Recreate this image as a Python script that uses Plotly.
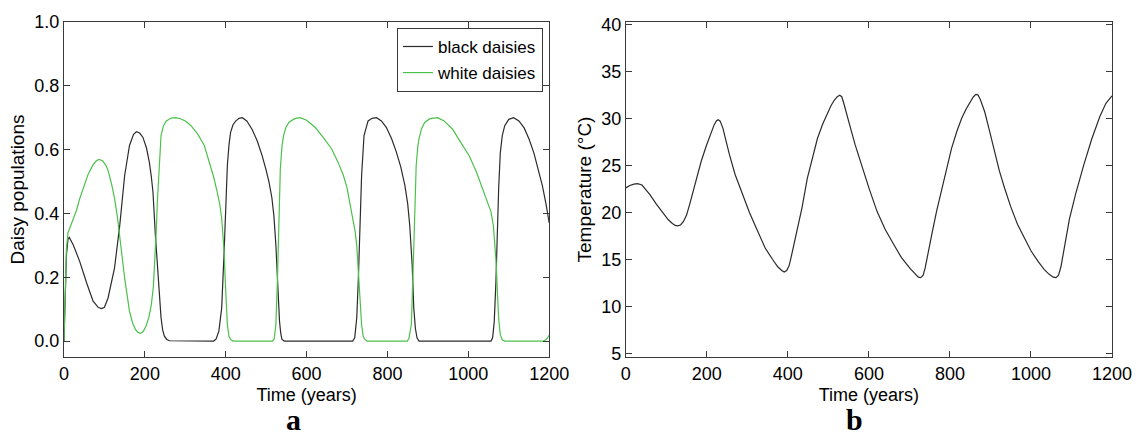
import plotly.graph_objects as go

# ---------------- data ----------------
black_t = [0, 3, 6, 10, 13, 23, 39, 56, 72, 85, 93, 100, 109, 125, 138, 150, 162, 172, 179, 187,
           195, 204, 211, 216, 220, 226, 230, 234, 240, 244, 248, 254, 261, 370, 376, 383, 390, 396,
           400, 404, 408, 412, 418, 425, 433, 441, 452, 465, 478, 490, 500, 507, 514, 519, 524, 528,
           533, 536, 539, 545, 714, 719, 724, 728, 732, 736, 742, 747, 752, 762, 773, 785, 797, 810,
           822, 833, 843, 850, 855, 861, 865, 869, 873, 878, 1056, 1060, 1064, 1068, 1071, 1075,
           1079, 1084, 1090, 1100, 1112, 1125, 1138, 1150, 1162, 1173, 1183, 1192, 1200]
black_v = [0.0, 0.15, 0.27, 0.32, 0.325, 0.301, 0.249, 0.182, 0.125, 0.105, 0.102, 0.106, 0.135,
           0.229, 0.364, 0.519, 0.613, 0.648, 0.656, 0.652, 0.639, 0.605, 0.561, 0.515, 0.467, 0.332,
           0.25, 0.176, 0.073, 0.035, 0.016, 0.005, 0.001, 0.0, 0.006, 0.031, 0.104, 0.28, 0.425,
           0.55, 0.615, 0.654, 0.678, 0.69, 0.698, 0.70, 0.69, 0.664, 0.627, 0.581, 0.535, 0.498,
           0.45, 0.394, 0.301, 0.187, 0.062, 0.025, 0.005, 0.0, 0.0, 0.01, 0.073, 0.197, 0.363,
           0.519, 0.644, 0.672, 0.69, 0.698, 0.70, 0.69, 0.67, 0.635, 0.592, 0.545, 0.488, 0.43,
           0.363, 0.239, 0.104, 0.04, 0.01, 0.0, 0.0, 0.01, 0.06, 0.18, 0.32, 0.48, 0.59, 0.645,
           0.675, 0.695, 0.70, 0.69, 0.668, 0.633, 0.59, 0.54, 0.487, 0.43, 0.37]

white_t = [0, 3, 6, 10, 16, 23, 31, 39, 50, 60, 72, 80, 87, 95, 103, 109, 118, 125, 132, 138, 144,
           150, 156, 162, 170, 177, 183, 189, 196, 203, 210, 216, 221, 224, 228, 231, 234, 237, 240,
           246, 253, 265, 277, 290, 302, 314, 330, 347, 359, 370, 379, 385, 390, 393, 396, 400, 404,
           408, 412, 418, 516, 520, 524, 528, 531, 535, 539, 543, 549, 556, 570, 584, 600, 621, 640,
           662, 678, 691, 700, 707, 714, 720, 724, 726, 730, 733, 736, 740, 744, 750, 849, 853, 859,
           863, 867, 871, 875, 878, 884, 892, 905, 924, 940, 961, 980, 1002, 1020, 1035, 1046, 1056,
           1062, 1066, 1069, 1072, 1075, 1079, 1084, 1090, 1185, 1192, 1200]
white_v = [0.0, 0.16, 0.29, 0.34, 0.36, 0.379, 0.41, 0.447, 0.49, 0.524, 0.553, 0.565, 0.569, 0.565,
           0.552, 0.535, 0.49, 0.447, 0.39, 0.332, 0.262, 0.197, 0.14, 0.093, 0.055, 0.036, 0.027,
           0.024, 0.03, 0.047, 0.075, 0.114, 0.17, 0.229, 0.343, 0.44, 0.52, 0.59, 0.644, 0.675,
           0.69, 0.699, 0.70, 0.696, 0.688, 0.675, 0.65, 0.613, 0.561, 0.515, 0.467, 0.43, 0.384,
           0.34, 0.28, 0.156, 0.052, 0.015, 0.005, 0.0, 0.0, 0.008, 0.052, 0.197, 0.363, 0.54, 0.61,
           0.644, 0.67, 0.685, 0.697, 0.70, 0.692, 0.67, 0.64, 0.602, 0.56, 0.519, 0.48, 0.436, 0.39,
           0.343, 0.3, 0.26, 0.156, 0.09, 0.052, 0.015, 0.005, 0.0, 0.0, 0.008, 0.052, 0.207, 0.384,
           0.55, 0.61, 0.634, 0.665, 0.685, 0.697, 0.70, 0.69, 0.664, 0.625, 0.581, 0.53, 0.477,
           0.44, 0.405, 0.36, 0.3, 0.24, 0.15, 0.07, 0.02, 0.004, 0.0, 0.0, 0.004, 0.018]

temp_t = [0, 10, 20, 29, 40, 50, 60, 75, 92, 105, 115, 122, 128, 135, 142, 150, 158, 165, 174, 186,
          199, 210, 218, 224, 228, 233, 240, 248, 256, 270, 289, 305, 322, 344, 362, 375, 385, 391,
          397, 403, 408, 415, 424, 435, 448, 461, 473, 486, 497, 507, 515, 522, 528, 533, 538, 545,
          555, 566, 579, 600, 620, 640, 661, 680, 702, 712, 722, 728, 734, 739, 745, 755, 767, 780,
          792, 804, 817, 829, 840, 850, 858, 864, 869, 875, 880, 886, 898, 910, 922, 935, 950, 967,
          985, 1000, 1017, 1033, 1045, 1055, 1062, 1068, 1074, 1080, 1086, 1095, 1110, 1130, 1150,
          1170, 1185, 1200]
temp_v = [22.6, 22.85, 23.0, 23.05, 22.9, 22.4, 21.85, 20.9, 19.9, 19.2, 18.8, 18.6, 18.55, 18.65,
          19.0, 19.7, 20.9, 22.1, 23.6, 25.4, 27.1, 28.4, 29.3, 29.75, 29.85, 29.7, 28.9, 27.5,
          26.1, 24.0, 21.86, 20.0, 18.33, 16.2, 15.0, 14.2, 13.8, 13.65, 13.8, 14.3, 15.2, 16.6,
          18.33, 20.5, 23.6, 25.8, 27.85, 29.4, 30.5, 31.4, 31.95, 32.3, 32.45, 32.3, 31.6, 30.4,
          28.9, 27.2, 25.4, 22.6, 20.1, 18.2, 16.6, 15.2, 14.0, 13.5, 13.1, 13.05, 13.3, 14.1, 15.3,
          17.6, 20.1, 22.56, 24.7, 26.8, 28.6, 30.0, 31.0, 31.8, 32.3, 32.55, 32.5, 32.0, 31.4,
          30.67, 28.6, 26.4, 24.4, 22.56, 20.6, 18.7, 17.1, 15.9, 14.8, 13.9, 13.4, 13.1, 13.05,
          13.3, 14.2, 15.6, 17.2, 19.3, 21.9, 25.0, 27.8, 30.2, 31.6, 32.4]

x_ticks = [0, 200, 400, 600, 800, 1000, 1200]
pop_ticks = [0.0, 0.2, 0.4, 0.6, 0.8, 1.0]
temp_ticks = [5, 10, 15, 20, 25, 30, 35, 40]

# ---------------- figure ----------------
SANS = "Liberation Sans, Arial, Helvetica, sans-serif"
SERIF = "Liberation Serif, Times New Roman, serif"
AX = "#3a3a3a"

fig = go.Figure()
fig.add_trace(go.Scatter(x=black_t, y=black_v, mode="lines", name="black daisies",
                         line=dict(color="#2b2b2b", width=1.2), legendgroup="b",
                         xaxis="x", yaxis="y"))
fig.add_trace(go.Scatter(x=white_t, y=white_v, mode="lines", name="white daisies",
                         line=dict(color="#4cc04c", width=1.2), legendgroup="w",
                         xaxis="x", yaxis="y"))
fig.add_trace(go.Scatter(x=temp_t, y=temp_v, mode="lines", name="Temperature",
                         line=dict(color="#2b2b2b", width=1.2), showlegend=False,
                         xaxis="x2", yaxis="y2"))

common = dict(showline=True, linecolor=AX, linewidth=1, mirror="allticks", ticks="inside",
              ticklen=6, tickcolor=AX, tickwidth=1, showgrid=False, zeroline=False,
              tickfont=dict(family=SANS, size=18, color="black"))

W, H = 1144, 439
ml, mr, mt, mb = 64, 26, 19, 82
pw = W - ml - mr
ph = H - mt - mb

fig.update_layout(
    width=W, height=H,
    margin=dict(l=ml, r=mr, t=mt, b=mb),
    paper_bgcolor="white", plot_bgcolor="white",
    showlegend=True,
    legend=dict(x=(545.7 - ml) / pw, xanchor="right", y=(H - mb - 25) / ph, yanchor="top",
                bgcolor="white", bordercolor=AX, borderwidth=1, tracegroupgap=1,
                font=dict(family=SANS, size=17, color="black")),
    xaxis=dict(domain=[0, (552 - ml) / pw], range=[0, 1200], tickvals=x_ticks,
               title=dict(text="Time (years)", font=dict(family=SANS, size=18, color="black"), standoff=5),
               **common),
    yaxis=dict(domain=[0, 1], range=[-0.05, 1.0], tickvals=pop_ticks, tickformat=".1f",
               title=dict(text="Daisy populations", font=dict(family=SANS, size=19, color="black"), standoff=4),
               **common),
    xaxis2=dict(domain=[(629 - ml) / pw, 1], range=[0, 1200], tickvals=x_ticks, anchor="y2",
                title=dict(text="Time (years)", font=dict(family=SANS, size=18, color="black"), standoff=5),
                **common),
    yaxis2=dict(domain=[0, 1], range=[4.6, 40.25], tickvals=temp_ticks, anchor="x2",
                title=dict(text="Temperature (°C)", font=dict(family=SANS, size=19, color="black"), standoff=4),
                **common),
    annotations=[
        dict(text="<b>a</b>", x=(295 - ml) / pw, y=-(439 - (H - mb)) / ph,
             xref="paper", yref="paper", xanchor="center", yanchor="bottom", showarrow=False,
             font=dict(family=SERIF, size=30, color="black")),
        dict(text="<b>b</b>", x=(859.5 - ml) / pw, y=-(439 - (H - mb)) / ph,
             xref="paper", yref="paper", xanchor="center", yanchor="bottom", showarrow=False,
             font=dict(family=SERIF, size=30, color="black")),
    ],
)

fig.write_html("out.html")
